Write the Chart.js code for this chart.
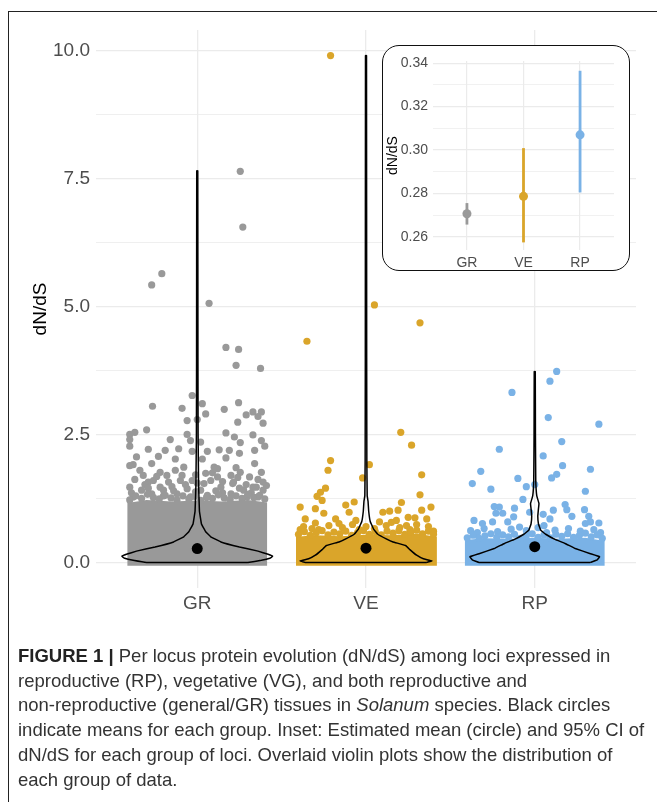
<!DOCTYPE html>
<html>
<head>
<meta charset="utf-8">
<script src="https://cdn.jsdelivr.net/npm/chart.js@4.4.1/dist/chart.umd.min.js"></script>
<style>
  html, body { margin: 0; padding: 0; background: #fff; }
  body { width: 657px; height: 802px; position: relative; overflow: hidden; font-family: "Liberation Sans", Arial, sans-serif; }
  #main { position: absolute; left: 0; top: 0; }
  #inset-box { position: absolute; left: 382px; top: 45px; width: 246px; height: 224px; border: 1.5px solid #111; border-radius: 17px; background: #fff; }
  #inset { position: absolute; left: 384px; top: 47px; }
  #frame { position: absolute; left: 8px; top: 11px; width: 700px; height: 820px; border-top: 1px solid #222; border-left: 1px solid #222; pointer-events: none; }
  #caption { position: absolute; left: 18px; top: 644px; font-size: 18.5px; line-height: 24.7px; color: #333; white-space: nowrap; }
  #caption b { color: #222; }
</style>
</head>
<body>
<canvas id="main" width="657" height="612"></canvas>
<div id="inset-box"></div>
<canvas id="inset" width="244" height="222"></canvas>
<div id="frame"></div>
<div id="caption">
  <div><b>FIGURE 1 |</b> Per locus protein evolution (dN/dS) among loci expressed in</div>
  <div>reproductive (RP), vegetative (VG), and both reproductive and</div>
  <div>non-reproductive (general/GR) tissues in <i>Solanum</i> species. Black circles</div>
  <div>indicate means for each group. Inset: Estimated mean (circle) and 95% CI of</div>
  <div>dN/dS for each group of loci. Overlaid violin plots show the distribution of</div>
  <div>each group of data.</div>
</div>

<script>
// ---- Data ----
const groups = ['GR', 'VE', 'RP'];
const groupColors = ['#999999', '#DAA52A', '#7AB2E6'];
const yMajor = [0, 2.5, 5, 7.5, 10];
const yMinor = [1.25, 3.75, 6.25, 8.75];

// inset: estimated mean + 95% CI (also the black mean dots)
const meanVal = [0.2707, 0.2787, 0.3070];
const ciLow = [0.2657, 0.2575, 0.2805];
const ciHigh = [0.2756, 0.3009, 0.3365];
const insetMajor = [0.26, 0.28, 0.30, 0.32, 0.34];
const insetMinor = [0.27, 0.29, 0.31, 0.33];

// jittered loci that stand out from the dense band: [x, dN/dS]
const grPoints = [
  [1.255, 7.64], [1.27, 6.55], [0.79, 5.64], [0.73, 5.42], [1.07, 5.06], [1.17, 4.20], [1.245, 4.16], [1.23, 3.85], [1.375, 3.79],
  [0.97, 3.26], [0.735, 3.05], [0.91, 3.01], [1.03, 3.10], [1.245, 3.12], [1.16, 2.99], [1.05, 2.90], [1.29, 2.88], [1.33, 2.94],
  [1.38, 2.94], [1.36, 2.85], [1.39, 2.72], [0.94, 2.77], [1.0, 2.79], [1.24, 2.74], [0.70, 2.59], [0.63, 2.54], [0.60, 2.50],
  [0.60, 2.40], [0.60, 2.27], [0.84, 2.40], [0.94, 2.50], [0.96, 2.38], [1.02, 2.35], [1.17, 2.53], [1.22, 2.45], [1.255, 2.34],
  [1.33, 2.49], [1.38, 2.38], [1.40, 2.27], [0.71, 2.21], [0.81, 2.19], [0.89, 2.22], [0.97, 2.17], [1.06, 2.17], [1.13, 2.20],
  [1.19, 2.19], [1.25, 2.13], [1.34, 2.19], [0.64, 2.06], [0.77, 2.07], [0.87, 2.02], [1.03, 2.02], [1.17, 2.04], [1.34, 1.93],
  [0.62, 1.91], [0.73, 1.93], [0.92, 1.86], [1.10, 1.86], [1.23, 1.85], [0.66, 1.80], [0.60, 1.47], [0.68, 1.70], [0.78, 1.76],
  [0.82, 1.70], [0.87, 1.80], [0.99, 1.71], [1.05, 1.74], [1.12, 1.67], [1.20, 1.70], [1.255, 1.76], [1.31, 1.67], [1.38, 1.76],
  [1.39, 1.57], [0.71, 1.57], [0.90, 1.60], [1.04, 1.54], [1.215, 1.57], [1.33, 1.47], [0.78, 1.47], [1.14, 1.47], [0.74, 1.60],
  [0.83, 1.57], [0.94, 1.44], [0.97, 1.60], [1.08, 1.60], [1.12, 1.83], [1.21, 1.54], [1.275, 1.41], [1.35, 1.47], [1.39, 1.41],
  [0.67, 1.41], [0.73, 1.34], [0.80, 1.41], [1.02, 1.41], [1.20, 1.34], [0.62, 1.28], [0.88, 1.34], [0.96, 1.28], [1.06, 1.31],
  [1.295, 1.28], [1.36, 1.28], [0.60, 1.89], [0.63, 1.62], [0.69, 1.52], [0.76, 1.68], [0.85, 1.48], [0.91, 1.70], [1.00, 1.55],
  [1.09, 1.75], [1.15, 1.58], [1.24, 1.66], [1.29, 1.52], [1.36, 1.62], [1.41, 1.50], [0.61, 1.36], [0.71, 1.45], [0.86, 1.40],
  [0.99, 1.38], [1.11, 1.40], [1.25, 1.45], [1.32, 1.36], [0.80, 1.30], [1.15, 1.36], [0.93, 1.52],
  [0.60, 1.22], [0.635, 1.30], [0.67, 1.25], [0.705, 1.33], [0.74, 1.27], [0.775, 1.24], [0.81, 1.31], [0.845, 1.26], [0.88, 1.22],
  [0.915, 1.30], [0.95, 1.24], [0.985, 1.29], [1.02, 1.21], [1.055, 1.27], [1.09, 1.25], [1.125, 1.32], [1.16, 1.26], [1.195, 1.23],
  [1.23, 1.30], [1.265, 1.25], [1.30, 1.33], [1.335, 1.27], [1.37, 1.31], [1.40, 1.24]
];
const vePoints = [
  [1.79, 9.90], [2.05, 5.03], [2.32, 4.68], [1.65, 4.32], [2.206, 2.54], [2.27, 2.29], [1.79, 1.99], [1.775, 1.80], [2.02, 1.91],
  [1.98, 1.65], [2.33, 1.71], [1.76, 1.45], [1.73, 1.37], [1.71, 1.29], [1.74, 1.21], [2.32, 1.32], [1.61, 1.08], [1.70, 1.05],
  [1.88, 1.12], [1.93, 1.18], [1.90, 0.98], [2.21, 1.17], [2.385, 1.08], [2.33, 1.02], [2.10, 0.98], [2.14, 1.0], [2.19, 1.02],
  [2.25, 0.88], [2.29, 0.87], [1.64, 0.85], [1.75, 0.96], [1.82, 0.85], [1.94, 0.82], [2.36, 0.85], [1.61, 0.64], [1.70, 0.77],
  [1.84, 0.76], [2.08, 0.79], [2.18, 0.82], [2.24, 0.72], [2.40, 0.61], [1.63, 0.70], [1.68, 0.66], [1.78, 0.72], [1.86, 0.68],
  [1.92, 0.74], [2.00, 0.70], [2.05, 0.66], [2.12, 0.72], [2.20, 0.68], [2.30, 0.74], [2.37, 0.70], [2.26, 0.64], [1.72, 0.64],
  [1.96, 0.64], [2.15, 0.78],
  [1.60, 0.55], [1.635, 0.60], [1.67, 0.53], [1.705, 0.58], [1.74, 0.62], [1.775, 0.54], [1.81, 0.59], [1.845, 0.56], [1.88, 0.61],
  [1.915, 0.53], [1.95, 0.58], [1.985, 0.62], [2.02, 0.55], [2.055, 0.60], [2.09, 0.54], [2.125, 0.61], [2.16, 0.57], [2.195, 0.62],
  [2.23, 0.55], [2.265, 0.59], [2.30, 0.63], [2.335, 0.56], [2.37, 0.61], [2.40, 0.55]
];
const rpPoints = [
  [3.13, 3.73], [3.09, 3.54], [2.865, 3.32], [3.38, 2.70], [3.08, 2.83], [3.16, 2.36], [2.79, 2.21], [3.05, 2.08], [3.165, 1.89],
  [3.33, 1.82], [2.68, 1.78], [3.13, 1.72], [3.10, 1.65], [2.90, 1.64], [2.63, 1.54], [2.74, 1.43], [2.95, 1.48], [3.0, 1.52],
  [3.30, 1.39], [2.93, 1.23], [2.76, 1.09], [2.79, 1.08], [3.18, 1.13], [2.88, 1.06], [3.295, 1.03], [3.11, 1.02], [3.19, 1.03],
  [2.81, 0.96], [2.77, 0.96], [2.97, 0.98], [3.05, 0.94], [3.32, 0.90], [3.22, 0.90], [2.64, 0.82], [2.875, 0.89], [3.09, 0.85],
  [2.69, 0.76], [2.75, 0.79], [3.38, 0.77], [3.30, 0.76], [3.33, 0.79], [2.84, 0.79], [2.91, 0.69], [3.055, 0.72], [2.62, 0.62],
  [2.70, 0.66], [2.78, 0.60], [2.86, 0.65], [2.95, 0.62], [3.02, 0.68], [3.12, 0.63], [3.20, 0.66], [3.27, 0.61], [3.35, 0.64],
  [3.39, 0.58], [2.66, 0.58], [3.07, 0.58],
  [2.60, 0.48], [2.635, 0.53], [2.67, 0.47], [2.705, 0.52], [2.74, 0.56], [2.775, 0.49], [2.81, 0.54], [2.845, 0.50], [2.88, 0.55],
  [2.915, 0.47], [2.95, 0.52], [2.985, 0.56], [3.02, 0.49], [3.055, 0.54], [3.09, 0.48], [3.125, 0.55], [3.16, 0.51], [3.195, 0.56],
  [3.23, 0.49], [3.265, 0.53], [3.30, 0.57], [3.335, 0.50], [3.37, 0.54], [3.40, 0.47]
];

// top edge of the solid mass of overlapping loci near zero: [x, dN/dS]
const bandFloor = -0.065;
const grBand = [[0.585, 1.16], [0.70, 1.22], [0.85, 1.19], [1.0, 1.21], [1.15, 1.19], [1.30, 1.22], [1.415, 1.17]];
const veBand = [[1.585, 0.50], [1.70, 0.53], [1.85, 0.51], [2.0, 0.54], [2.15, 0.53], [2.30, 0.56], [2.42, 0.50]];
const rpBand = [[2.585, 0.44], [2.70, 0.47], [2.85, 0.46], [3.0, 0.48], [3.15, 0.46], [3.30, 0.48], [3.415, 0.42]];

// violin outline: [dN/dS, half width]
const grViolin = [[0, 0.30], [0.04, 0.38], [0.08, 0.43], [0.12, 0.447], [0.16, 0.42], [0.22, 0.36], [0.30, 0.25], [0.40, 0.14],
  [0.50, 0.08], [0.60, 0.05], [0.75, 0.025], [1.0, 0.013], [1.5, 0.008], [2.5, 0.005], [4.0, 0.004], [7.65, 0.003]];
const veViolin = [[0, 0.36], [0.03, 0.39], [0.07, 0.34], [0.14, 0.30], [0.25, 0.26], [0.33, 0.235], [0.40, 0.16], [0.46, 0.12],
  [0.55, 0.07], [0.65, 0.045], [0.80, 0.025], [1.0, 0.016], [1.2, 0.012], [1.3, 0.007], [2.0, 0.005], [4.0, 0.004], [9.9, 0.003]];
const rpViolin = [[0, 0.33], [0.05, 0.37], [0.11, 0.385], [0.17, 0.33], [0.27, 0.24], [0.37, 0.18], [0.45, 0.12], [0.55, 0.065],
  [0.63, 0.035], [0.75, 0.022], [0.90, 0.018], [1.05, 0.022], [1.15, 0.025], [1.3, 0.012], [1.6, 0.006], [2.5, 0.004], [3.73, 0.003]];

// ---- Helpers ----
const toXY = (pts) => pts.map(([x, y]) => ({ x, y }));
function violinPath(profile, center) {
  const right = profile.map(([y, w]) => ({ x: center + w, y }));
  const left = profile.slice().reverse().map(([y, w]) => ({ x: center - w, y }));
  return right.concat(left, [right[0]]);
}
const tickFont = (size) => ({ family: '"Liberation Sans", Arial, sans-serif', size });

// ---- Main panel ----
const pointSets = [grPoints, vePoints, rpPoints];
const bandSets = [grBand, veBand, rpBand];
const violinSets = [grViolin, veViolin, rpViolin];

const mainData = [];
groups.forEach((g, i) => {
  mainData.push({
    type: 'line', label: g + ' band', data: toXY(bandSets[i]), order: 4,
    backgroundColor: groupColors[i], borderColor: 'rgba(0,0,0,0)', borderWidth: 0,
    pointRadius: 0, fill: { value: bandFloor }
  });
  mainData.push({
    type: 'scatter', label: g, data: toXY(pointSets[i]), order: 3,
    backgroundColor: groupColors[i], borderWidth: 0, pointRadius: 3.6
  });
  mainData.push({
    type: 'line', label: g + ' violin', data: violinPath(violinSets[i], i + 1), order: 2,
    borderColor: '#000', borderWidth: 1.5, pointRadius: 0, fill: false, tension: 0.05
  });
});
mainData.push({
  type: 'scatter', label: 'mean', data: meanVal.map((m, i) => ({ x: i + 1, y: m })), order: 1,
  backgroundColor: '#000', borderWidth: 0, pointRadius: 5.5
});

new Chart(document.getElementById('main'), {
  type: 'scatter',
  data: { datasets: mainData },
  options: {
    responsive: false, animation: false, devicePixelRatio: 1,
    layout: { padding: { top: 30, right: 21, left: 0, bottom: 0 } },
    plugins: { legend: { display: false }, tooltip: { enabled: false } },
    scales: {
      x: {
        type: 'linear', min: 0.4, max: 3.6,
        afterBuildTicks: (s) => { s.ticks = [1, 2, 3].map((v) => ({ value: v })); },
        afterFit: (s) => { s.height = 24; },
        ticks: { callback: (v) => groups[v - 1], color: '#4D4D4D', font: tickFont(19), padding: 4, maxRotation: 0, autoSkip: false },
        grid: { color: '#EBEBEB', lineWidth: 1.3, drawTicks: false },
        border: { display: false }
      },
      y: {
        type: 'linear', min: -0.5, max: 10.4,
        afterBuildTicks: (s) => { s.ticks = yMajor.concat(yMinor).sort((a, b) => a - b).map((v) => ({ value: v })); },
        afterFit: (s) => { s.width = 96; },
        ticks: { callback: (v) => yMajor.includes(v) ? v.toFixed(1) : '', color: '#4D4D4D', font: tickFont(19), padding: 6, autoSkip: false },
        grid: { color: '#EBEBEB', lineWidth: (c) => yMajor.includes(c.tick && c.tick.value) ? 1.3 : 0.8, drawTicks: false },
        border: { display: false },
        title: { display: true, text: 'dN/dS', color: '#000', font: tickFont(19), padding: { top: 29, bottom: 0 } }
      }
    }
  }
});

// ---- Inset: mean and 95% CI ----
const insetData = groups.map((g, i) => ({
  type: 'line', label: g + ' CI', data: [{ x: i + 1, y: ciLow[i] }, { x: i + 1, y: ciHigh[i] }], order: 2,
  borderColor: groupColors[i], borderWidth: 2.8, pointRadius: 0, fill: false
}));
insetData.push({
  type: 'scatter', label: 'mean', data: meanVal.map((m, i) => ({ x: i + 1, y: m })), order: 1,
  backgroundColor: groupColors, borderWidth: 0, pointRadius: 4.5
});

new Chart(document.getElementById('inset'), {
  type: 'scatter',
  data: { datasets: insetData },
  options: {
    responsive: false, animation: false, devicePixelRatio: 1,
    layout: { padding: { top: 14, right: 14, left: 0, bottom: 0 } },
    plugins: { legend: { display: false }, tooltip: { enabled: false } },
    scales: {
      x: {
        type: 'linear', min: 0.4, max: 3.6,
        afterBuildTicks: (s) => { s.ticks = [1, 2, 3].map((v) => ({ value: v })); },
        afterFit: (s) => { s.height = 19; },
        ticks: { callback: (v) => groups[v - 1], color: '#4D4D4D', font: tickFont(14), padding: 5, maxRotation: 0, autoSkip: false },
        grid: { color: '#EBEBEB', lineWidth: 1.2, drawTicks: false },
        border: { display: false }
      },
      y: {
        type: 'linear', min: 0.254, max: 0.341,
        afterBuildTicks: (s) => { s.ticks = insetMajor.concat(insetMinor).sort((a, b) => a - b).map((v) => ({ value: v })); },
        afterFit: (s) => { s.width = 49; },
        ticks: { callback: (v) => insetMajor.some((t) => Math.abs(t - v) < 1e-9) ? v.toFixed(2) : '', color: '#4D4D4D', font: tickFont(14), padding: 5, autoSkip: false },
        grid: { color: '#EBEBEB', lineWidth: (c) => insetMajor.some((t) => c.tick && Math.abs(t - c.tick.value) < 1e-9) ? 1.2 : 0.7, drawTicks: false },
        border: { display: false },
        title: { display: true, text: 'dN/dS', color: '#000', font: tickFont(14), padding: { top: 1, bottom: 0 } }
      }
    }
  }
});
</script>
</body>
</html>
